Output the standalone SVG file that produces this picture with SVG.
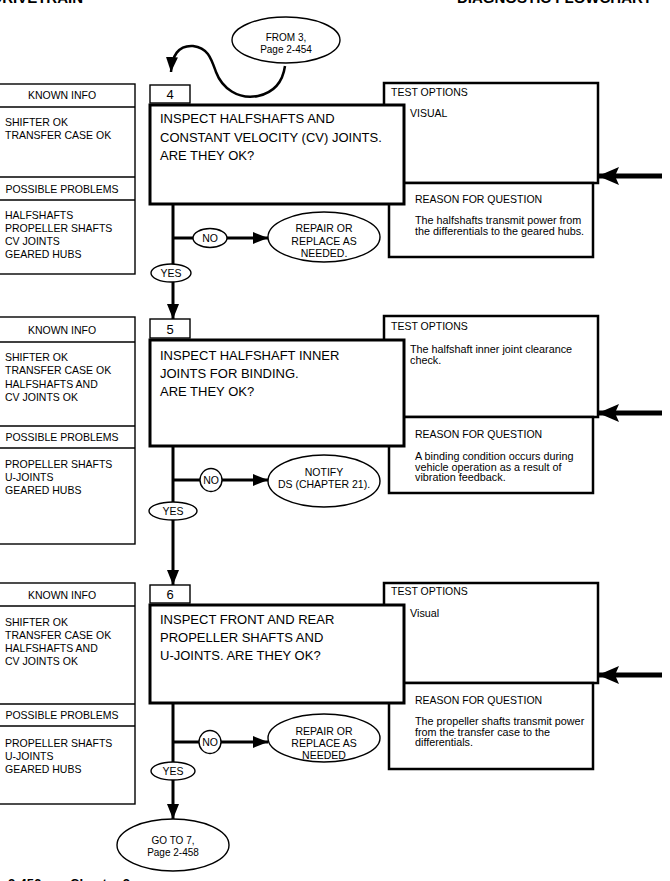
<svg xmlns="http://www.w3.org/2000/svg" width="670" height="881" viewBox="0 0 670 881">
<defs>
<style>
text{font-family:"Liberation Sans",Arial,Helvetica,sans-serif;fill:#000}
.hd{font-size:15px;font-weight:bold}
.ft{font-size:13px;font-weight:bold}
.s{font-size:10.5px}
.c{text-anchor:middle}
.q{font-size:13px}
.b{font-size:10px}
.r{font-size:10.8px}
.thin{fill:#fff;stroke:#000;stroke-width:1.4}
.med{fill:#fff;stroke:#000;stroke-width:2.5}
.thick{fill:#fff;stroke:#000;stroke-width:3}
.ov{fill:#fff;stroke:#000;stroke-width:1.4}
.ln{fill:none;stroke:#000;stroke-width:3}
.big{fill:none;stroke:#000;stroke-width:5}
.cur{fill:none;stroke:#000;stroke-width:2.5}
</style>
<marker id="ah" markerUnits="userSpaceOnUse" markerWidth="16" markerHeight="12" refX="15" refY="6" orient="auto">
<path d="M0,0 L15,6 L0,12 Z" fill="#000"/>
</marker>
<marker id="ahb" markerUnits="userSpaceOnUse" markerWidth="22" markerHeight="18" refX="21" refY="9" orient="auto">
<path d="M0,0 L21,9 L0,18 L4,9 Z" fill="#000"/>
</marker>
</defs>
<rect x="0" y="0" width="670" height="881" fill="#fff"/>

<g id="page-header">
<text class="hd" x="83" y="3" text-anchor="end">DRIVETRAIN</text>
<text class="hd" x="652" y="3" text-anchor="end">DIAGNOSTIC FLOWCHART</text>
<text class="ft" x="8" y="888">2-456</text>
<text class="ft" x="70" y="888">Chapter 2</text>
</g>

<g id="connectors">
<path class="cur" d="M285,66 C283,80 276,92 258,96 C238,100 222,88 216,72 C211,58 208,48 193,46 C178,45 172,56 171,72" marker-end="url(#ah)"/>
<line class="ln" x1="173" y1="204" x2="173" y2="319" marker-end="url(#ah)"/>
<line class="ln" x1="173" y1="446" x2="173" y2="585" marker-end="url(#ah)"/>
<line class="ln" x1="173" y1="703" x2="173" y2="819" marker-end="url(#ah)"/>
<line class="ln" x1="173" y1="238" x2="194" y2="238"/>
<line class="ln" x1="227" y1="238" x2="268" y2="238" marker-end="url(#ah)"/>
<line class="ln" x1="173" y1="480" x2="200" y2="480"/>
<line class="ln" x1="222" y1="480" x2="268" y2="480" marker-end="url(#ah)"/>
<line class="ln" x1="173" y1="742" x2="200" y2="742"/>
<line class="ln" x1="221" y1="742" x2="268" y2="742" marker-end="url(#ah)"/>
<line class="big" x1="662" y1="176" x2="598" y2="176" marker-end="url(#ahb)"/>
<line class="big" x1="662" y1="413" x2="598" y2="413" marker-end="url(#ahb)"/>
<line class="big" x1="662" y1="675" x2="598" y2="675" marker-end="url(#ahb)"/>
</g>

<g id="from3">
<ellipse class="ov" cx="286" cy="40" rx="54" ry="23"/>
<text class="b c" x="286" y="41">FROM 3,</text>
<text class="b c" x="286" y="53">Page 2-454</text>
</g>

<!-- Step 4 -->
<g id="info4">
<rect class="thin" x="-2" y="84" width="137" height="190"/>
<line class="thin" x1="-2" y1="107" x2="135" y2="107"/>
<line class="thin" x1="-2" y1="177" x2="135" y2="177"/>
<line class="thin" x1="-2" y1="200" x2="135" y2="200"/>
<text class="s c" x="62" y="99">KNOWN INFO</text>
<text class="s" x="5" y="126">SHIFTER OK</text>
<text class="s" x="5" y="139">TRANSFER CASE OK</text>
<text class="s c" x="62" y="193">POSSIBLE PROBLEMS</text>
<text class="s" x="5" y="219">HALFSHAFTS</text>
<text class="s" x="5" y="232">PROPELLER SHAFTS</text>
<text class="s" x="5" y="245">CV JOINTS</text>
<text class="s" x="5" y="258">GEARED HUBS</text>
</g>
<g id="test4">
<rect class="med" x="384" y="83" width="214" height="100"/>
<text class="s" x="391" y="96">TEST OPTIONS</text>
<text class="s" x="410" y="117">VISUAL</text>
</g>
<g id="reason4">
<rect class="med" x="389" y="183" width="204" height="74"/>
<text class="s" x="415" y="203">REASON FOR QUESTION</text>
<text class="r" x="415" y="224">The halfshafts transmit power from</text>
<text class="r" x="415" y="234.5">the differentials to the geared hubs.</text>
</g>
<g id="num4">
<rect class="thin" x="150" y="85" width="40" height="18"/>
<text class="q c" x="170" y="99">4</text>
</g>
<g id="q4">
<rect class="thick" x="150" y="105" width="254" height="99"/>
<text class="q" x="160" y="123">INSPECT HALFSHAFTS AND</text>
<text class="q" x="160" y="142">CONSTANT VELOCITY (CV) JOINTS.</text>
<text class="q" x="160" y="160">ARE THEY OK?</text>
</g>
<g id="no4">
<ellipse class="ov" cx="210" cy="238" rx="17" ry="9.5"/>
<text class="s c" x="210" y="242">NO</text>
</g>
<g id="repair4">
<ellipse class="ov" cx="324" cy="237" rx="56" ry="25"/>
<text class="s c" x="324" y="232">REPAIR OR</text>
<text class="s c" x="324" y="244.5">REPLACE AS</text>
<text class="s c" x="324" y="257">NEEDED.</text>
</g>
<g id="yes4">
<ellipse class="ov" cx="171" cy="273" rx="20" ry="9"/>
<text class="s c" x="171" y="277">YES</text>
</g>

<!-- Step 5 -->
<g id="info5">
<rect class="thin" x="-2" y="317" width="137" height="227"/>
<line class="thin" x1="-2" y1="342" x2="135" y2="342"/>
<line class="thin" x1="-2" y1="426" x2="135" y2="426"/>
<line class="thin" x1="-2" y1="448" x2="135" y2="448"/>
<text class="s c" x="62" y="334">KNOWN INFO</text>
<text class="s" x="5" y="361">SHIFTER OK</text>
<text class="s" x="5" y="374">TRANSFER CASE OK</text>
<text class="s" x="5" y="388">HALFSHAFTS AND</text>
<text class="s" x="5" y="401">CV JOINTS OK</text>
<text class="s c" x="62" y="441">POSSIBLE PROBLEMS</text>
<text class="s" x="5" y="468">PROPELLER SHAFTS</text>
<text class="s" x="5" y="481">U-JOINTS</text>
<text class="s" x="5" y="494">GEARED HUBS</text>
</g>
<g id="test5">
<rect class="med" x="384" y="316" width="214" height="101"/>
<text class="s" x="391" y="330">TEST OPTIONS</text>
<text class="r" x="410" y="353">The halfshaft inner joint clearance</text>
<text class="r" x="410" y="363.5">check.</text>
</g>
<g id="reason5">
<rect class="med" x="389" y="417" width="204" height="76"/>
<text class="s" x="415" y="438">REASON FOR QUESTION</text>
<text class="r" x="415" y="460">A binding condition occurs during</text>
<text class="r" x="415" y="470.5">vehicle operation as a result of</text>
<text class="r" x="415" y="481">vibration feedback.</text>
</g>
<g id="num5">
<rect class="thin" x="150" y="319" width="40" height="19"/>
<text class="q c" x="170" y="334">5</text>
</g>
<g id="q5">
<rect class="thick" x="150" y="340" width="254" height="106"/>
<text class="q" x="160" y="360">INSPECT HALFSHAFT INNER</text>
<text class="q" x="160" y="378">JOINTS FOR BINDING.</text>
<text class="q" x="160" y="396">ARE THEY OK?</text>
</g>
<g id="no5">
<ellipse class="ov" cx="211" cy="480" rx="11" ry="11.5"/>
<text class="s c" x="211" y="484">NO</text>
</g>
<g id="notify5">
<ellipse class="ov" cx="324" cy="481" rx="56" ry="26"/>
<text class="s c" x="324" y="476">NOTIFY</text>
<text class="s c" x="324" y="488">DS (CHAPTER 21).</text>
</g>
<g id="yes5">
<ellipse class="ov" cx="173" cy="511" rx="24" ry="9"/>
<text class="s c" x="173" y="515">YES</text>
</g>

<!-- Step 6 -->
<g id="info6">
<rect class="thin" x="-2" y="583" width="137" height="221"/>
<line class="thin" x1="-2" y1="606" x2="135" y2="606"/>
<line class="thin" x1="-2" y1="704" x2="135" y2="704"/>
<line class="thin" x1="-2" y1="726" x2="135" y2="726"/>
<text class="s c" x="62" y="599">KNOWN INFO</text>
<text class="s" x="5" y="626">SHIFTER OK</text>
<text class="s" x="5" y="639">TRANSFER CASE OK</text>
<text class="s" x="5" y="652">HALFSHAFTS AND</text>
<text class="s" x="5" y="665">CV JOINTS OK</text>
<text class="s c" x="62" y="719">POSSIBLE PROBLEMS</text>
<text class="s" x="5" y="747">PROPELLER SHAFTS</text>
<text class="s" x="5" y="760">U-JOINTS</text>
<text class="s" x="5" y="773">GEARED HUBS</text>
</g>
<g id="test6">
<rect class="med" x="384" y="583" width="214" height="100"/>
<text class="s" x="391" y="595">TEST OPTIONS</text>
<text class="r" x="410" y="617">Visual</text>
</g>
<g id="reason6">
<rect class="med" x="389" y="683" width="204" height="86"/>
<text class="s" x="415" y="704">REASON FOR QUESTION</text>
<text class="r" x="415" y="725">The propeller shafts transmit power</text>
<text class="r" x="415" y="735.5">from the transfer case to the</text>
<text class="r" x="415" y="746">differentials.</text>
</g>
<g id="num6">
<rect class="thin" x="150" y="585" width="40" height="18"/>
<text class="q c" x="170" y="599">6</text>
</g>
<g id="q6">
<rect class="thick" x="150" y="605" width="254" height="98"/>
<text class="q" x="160" y="624">INSPECT FRONT AND REAR</text>
<text class="q" x="160" y="642">PROPELLER SHAFTS AND</text>
<text class="q" x="160" y="660">U-JOINTS. ARE THEY OK?</text>
</g>
<g id="no6">
<ellipse class="ov" cx="210" cy="742" rx="11" ry="11.5"/>
<text class="s c" x="210" y="746">NO</text>
</g>
<g id="repair6">
<ellipse class="ov" cx="324" cy="738" rx="56" ry="24"/>
<text class="s c" x="324" y="735">REPAIR OR</text>
<text class="s c" x="324" y="747">REPLACE AS</text>
<text class="s c" x="324" y="759">NEEDED</text>
</g>
<g id="yes6">
<ellipse class="ov" cx="173" cy="771" rx="22" ry="9"/>
<text class="s c" x="173" y="775">YES</text>
</g>
<g id="goto7">
<ellipse class="ov" cx="173" cy="845" rx="56" ry="26"/>
<text class="b c" x="173" y="844">GO TO 7,</text>
<text class="b c" x="173" y="856">Page 2-458</text>
</g>
</svg>
